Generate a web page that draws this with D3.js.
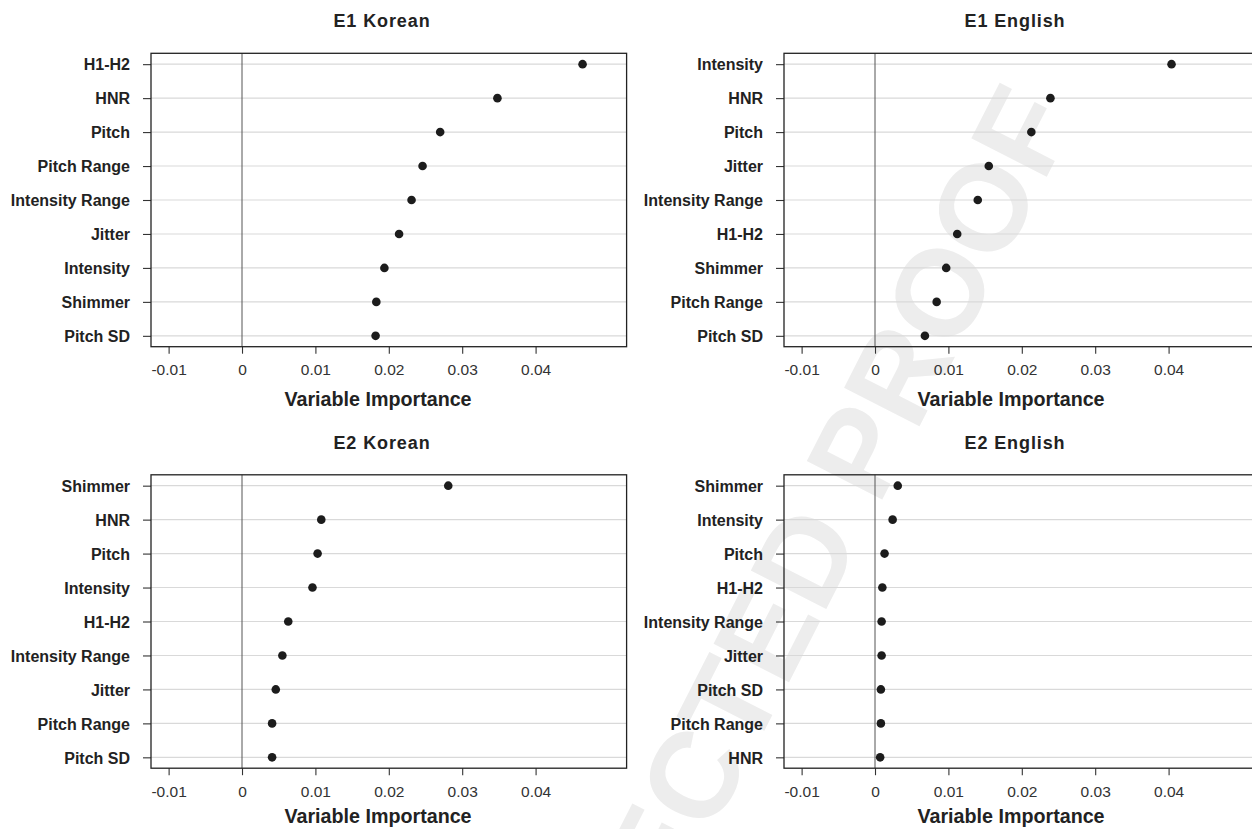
<!DOCTYPE html>
<html>
<head>
<meta charset="utf-8">
<script src="https://cdn.jsdelivr.net/npm/d3@7"></script>
<style>
  html, body { margin: 0; padding: 0; background: #fff; }
  svg { display: block; }
  text { font-family: "Liberation Sans", Arial, Helvetica, sans-serif; }
</style>
</head>
<body>
<svg id="chart" width="1252" height="829"></svg>
<script>
// Variable importance (random forest) for the acoustic cues, per experiment and language
const e1KoreanLabels = ["H1-H2", "HNR", "Pitch", "Pitch Range", "Intensity Range", "Jitter", "Intensity", "Shimmer", "Pitch SD"];
const e1KoreanValues = [0.0464, 0.0348, 0.0270, 0.0246, 0.0231, 0.0214, 0.0194, 0.0183, 0.0182];

const e1EnglishLabels = ["Intensity", "HNR", "Pitch", "Jitter", "Intensity Range", "H1-H2", "Shimmer", "Pitch Range", "Pitch SD"];
const e1EnglishValues = [0.0404, 0.0239, 0.0213, 0.0155, 0.0140, 0.0112, 0.0097, 0.0084, 0.0068];

const e2KoreanLabels = ["Shimmer", "HNR", "Pitch", "Intensity", "H1-H2", "Intensity Range", "Jitter", "Pitch Range", "Pitch SD"];
const e2KoreanValues = [0.0281, 0.0108, 0.0103, 0.0096, 0.0063, 0.0055, 0.0046, 0.0041, 0.0041];

const e2EnglishLabels = ["Shimmer", "Intensity", "Pitch", "H1-H2", "Intensity Range", "Jitter", "Pitch SD", "Pitch Range", "HNR"];
const e2EnglishValues = [0.0031, 0.0024, 0.0013, 0.0010, 0.0009, 0.0009, 0.0008, 0.0008, 0.0007];

const panelTitles = ["E1 Korean", "E1 English", "E2 Korean", "E2 English"];
const xTickValues = [-0.01, 0, 0.01, 0.02, 0.03, 0.04];
const xTickLabels = ["-0.01", "0", "0.01", "0.02", "0.03", "0.04"];
const xAxisTitle = "Variable Importance";
const xLimits = [-0.01, 0.05];

const panels = [
  { title: panelTitles[0], labels: e1KoreanLabels, values: e1KoreanValues, left: 151, top: 53.3, xTitleGap: 59 },
  { title: panelTitles[1], labels: e1EnglishLabels, values: e1EnglishValues, left: 784, top: 53.3, xTitleGap: 59 },
  { title: panelTitles[2], labels: e2KoreanLabels, values: e2KoreanValues, left: 151, top: 474.8, xTitleGap: 55 },
  { title: panelTitles[3], labels: e2EnglishLabels, values: e2EnglishValues, left: 784, top: 474.8, xTitleGap: 55 }
];

const svg = d3.select("#chart");

// faint diagonal proof stamp behind the panels
svg.append("text")
  .attr("transform", "translate(1077,117) rotate(-63)")
  .attr("text-anchor", "end")
  .attr("font-size", 123)
  .attr("font-weight", "bold")
  .attr("fill", "#ededed")
  .text("CORRECTED PROOF");

const plotW = 475.6;
const plotH = 293.4;

// R-style axis limits: data limits padded by 4% on each side
const pad = (xLimits[1] - xLimits[0]) * 0.04;

panels.forEach(p => {
  const n = p.labels.length;
  const x = d3.scaleLinear()
    .domain([xLimits[0] - pad, xLimits[1] + pad])
    .range([p.left, p.left + plotW]);
  const yPad = (n - 1) * 0.04;
  const y = d3.scaleLinear()
    .domain([1 - yPad, n + yPad])
    .range([p.top + plotH, p.top]);
  const rank = i => n - i;

  const g = svg.append("g");

  // horizontal guide lines
  g.selectAll("line.grid")
    .data(p.labels)
    .join("line")
    .attr("class", "grid")
    .attr("x1", x.range()[0]).attr("x2", x.range()[1])
    .attr("y1", (d, i) => y(rank(i))).attr("y2", (d, i) => y(rank(i)))
    .attr("stroke", "#d9d9d9")
    .attr("stroke-width", 1.1);

  // zero reference line
  g.append("line")
    .attr("x1", x(0)).attr("x2", x(0))
    .attr("y1", p.top).attr("y2", p.top + plotH)
    .attr("stroke", "#555")
    .attr("stroke-width", 1);

  // y axis ticks and labels
  const yAxis = d3.axisLeft(y)
    .tickValues(p.labels.map((d, i) => rank(i)))
    .tickFormat(v => p.labels[n - v])
    .tickSize(8)
    .tickPadding(13);
  const ya = g.append("g")
    .attr("transform", `translate(${p.left},0)`)
    .call(yAxis);
  ya.select(".domain").remove();
  ya.selectAll(".tick line").attr("stroke", "#333").attr("stroke-width", 1.1);
  ya.selectAll(".tick text")
    .attr("font-family", "'Liberation Sans', Arial, Helvetica, sans-serif")
    .attr("font-size", 16)
    .attr("font-weight", "bold")
    .attr("fill", "#222")
    .attr("dy", "0.36em");

  // x axis
  const xAxis = d3.axisBottom(x)
    .tickValues(xTickValues)
    .tickFormat((d, i) => xTickLabels[i])
    .tickSize(7)
    .tickPadding(10.5);
  const xa = g.append("g")
    .attr("transform", `translate(0,${p.top + plotH})`)
    .call(xAxis);
  xa.select(".domain").remove();
  xa.selectAll(".tick line").attr("stroke", "#333").attr("stroke-width", 1.1);
  xa.selectAll(".tick text")
    .attr("font-family", "'Liberation Sans', Arial, Helvetica, sans-serif")
    .attr("font-size", 15.5)
    .attr("fill", "#333");

  // plot frame
  g.append("rect")
    .attr("x", p.left).attr("y", p.top)
    .attr("width", plotW).attr("height", plotH)
    .attr("fill", "none")
    .attr("stroke", "#222")
    .attr("stroke-width", 1.3);

  // points
  g.selectAll("circle")
    .data(p.values)
    .join("circle")
    .attr("cx", d => x(d))
    .attr("cy", (d, i) => y(rank(i)))
    .attr("r", 4.3)
    .attr("fill", "#1c1c1c");

  // panel title
  g.append("text")
    .attr("x", x(0) + 140)
    .attr("y", p.top - 26)
    .attr("text-anchor", "middle")
    .attr("font-size", 18)
    .attr("font-weight", "bold")
    .attr("letter-spacing", 0.9)
    .attr("fill", "#222")
    .text(p.title);

  // x axis title
  g.append("text")
    .attr("x", x(0) + 136)
    .attr("y", p.top + plotH + p.xTitleGap)
    .attr("text-anchor", "middle")
    .attr("font-size", 19.7)
    .attr("font-weight", "bold")
    .attr("fill", "#222")
    .text(xAxisTitle);
});
</script>
</body>
</html>
